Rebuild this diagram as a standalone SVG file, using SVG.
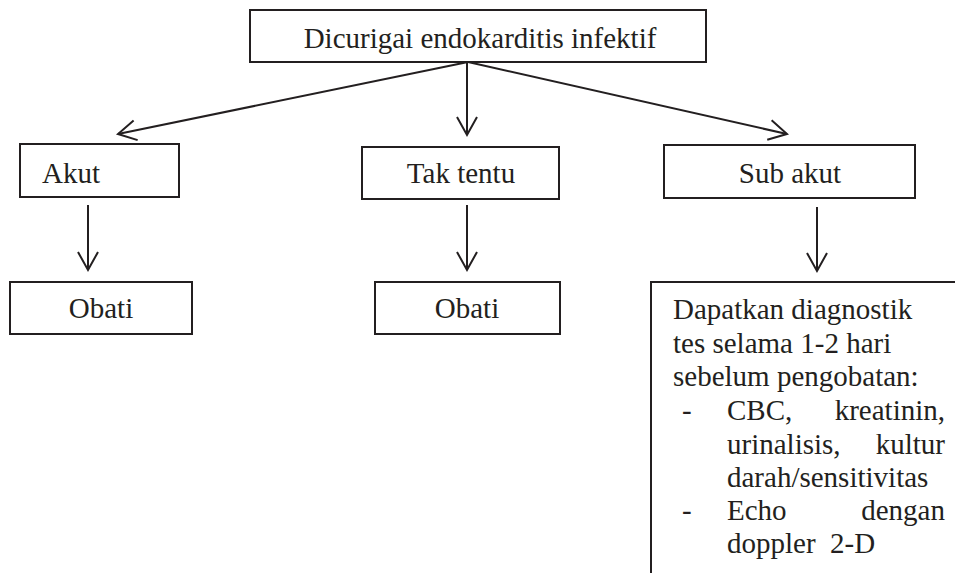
<svg xmlns="http://www.w3.org/2000/svg" width="955" height="573" viewBox="0 0 955 573">
<defs>
<style>
.box{fill:#fff;stroke:#231f20;stroke-width:2}
.t{font-family:"Liberation Serif","Times New Roman",serif;font-size:29px;fill:#231f20}
.c{text-anchor:middle}
.e{text-anchor:end}
.ln{stroke:#231f20;stroke-width:2;fill:none;marker-end:url(#ah)}
</style>
<marker id="ah" markerUnits="userSpaceOnUse" markerWidth="24" markerHeight="24" viewBox="-20 -12 24 24" refX="0" refY="0" orient="auto">
<path d="M-18,-10 L0,0 L-18,10" fill="none" stroke="#231f20" stroke-width="2"/>
</marker>
</defs>
<rect width="955" height="573" fill="#fff"/>
<g id="connectors">
<line class="ln" x1="468" y1="62" x2="118" y2="134"/>
<line class="ln" x1="467" y1="62" x2="467" y2="135"/>
<line class="ln" x1="468" y1="62" x2="787" y2="134"/>
<line class="ln" x1="88" y1="205" x2="88" y2="270"/>
<line class="ln" x1="467" y1="205" x2="467" y2="270"/>
<line class="ln" x1="817" y1="207" x2="817" y2="271"/>
</g>
<g id="n-root">
<rect class="box" x="250" y="10" width="456" height="52"/>
<text class="t c" x="480" y="48">Dicurigai endokarditis infektif</text>
</g>
<g id="n-akut">
<rect class="box" x="20" y="144" width="159" height="53"/>
<text class="t" x="42" y="183">Akut</text>
</g>
<g id="n-taktentu">
<rect class="box" x="362" y="147" width="197" height="52"/>
<text class="t c" x="461" y="183">Tak tentu</text>
</g>
<g id="n-subakut">
<rect class="box" x="664" y="145" width="251" height="53"/>
<text class="t c" x="790" y="183">Sub akut</text>
</g>
<g id="n-obati1">
<rect class="box" x="10" y="282" width="182" height="52"/>
<text class="t c" x="101" y="318">Obati</text>
</g>
<g id="n-obati2">
<rect class="box" x="375" y="282" width="185" height="52"/>
<text class="t c" x="467" y="318">Obati</text>
</g>
<g id="n-diag">
<path class="box" d="M960,282 L651,282 L651,580"/>
<text class="t" x="673" y="319">Dapatkan diagnostik</text>
<text class="t" x="673" y="353">tes selama 1-2 hari</text>
<text class="t" x="673" y="386">sebelum pengobatan:</text>
<text class="t" x="682" y="420">-</text>
<text class="t" x="727" y="420">CBC,</text>
<text class="t e" x="945" y="420">kreatinin,</text>
<text class="t" x="727" y="454">urinalisis,</text>
<text class="t e" x="945" y="454">kultur</text>
<text class="t" x="727" y="487">darah/sensitivitas</text>
<text class="t" x="682" y="520">-</text>
<text class="t" x="727" y="520">Echo</text>
<text class="t e" x="945" y="520">dengan</text>
<text class="t" x="727" y="553" xml:space="preserve">doppler  2-D</text>
</g>
</svg>
